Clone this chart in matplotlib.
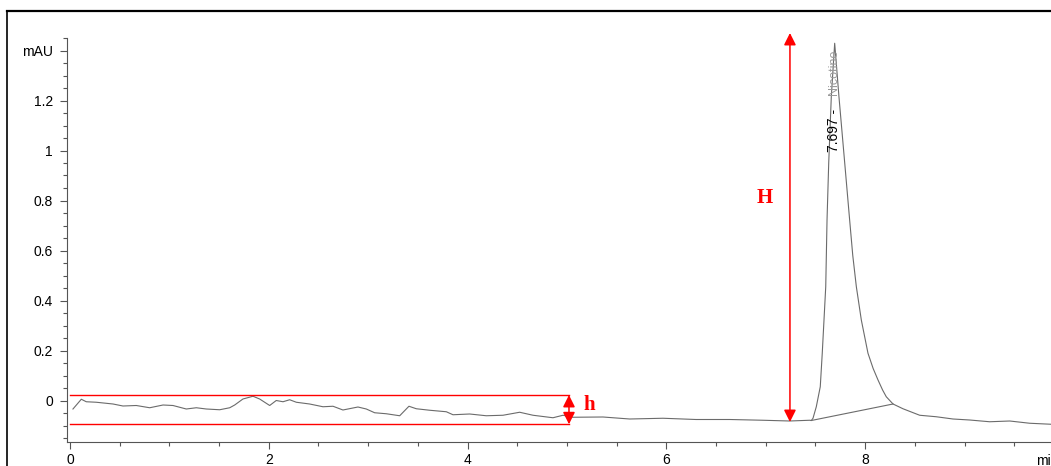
import matplotlib
matplotlib.use("Agg")
import matplotlib.pyplot as plt
from matplotlib.lines import Line2D
from matplotlib.ticker import MultipleLocator, FixedLocator

# chromatogram trace (min, mAU)
time_min = [0.03, 0.114, 0.164, 0.265, 0.433, 0.533, 0.667, 0.802, 0.936, 1.036,
            1.170, 1.271, 1.371, 1.506, 1.607, 1.657, 1.740, 1.841, 1.908, 2.009,
            2.075, 2.143, 2.210, 2.277, 2.411, 2.545, 2.646, 2.746, 2.897, 2.981,
            3.065, 3.182, 3.317, 3.410, 3.484, 3.619, 3.786, 3.853, 4.021, 4.188,
            4.356, 4.524, 4.658, 4.859, 4.960, 5.060, 5.362, 5.631, 5.966, 6.298,
            6.637, 6.972, 7.240, 7.442, 7.458, 7.475, 7.508, 7.548, 7.568, 7.603,
            7.616, 7.633, 7.659, 7.693, 7.736, 7.794, 7.844, 7.875, 7.911, 7.961,
            8.028, 8.080, 8.129, 8.175, 8.212, 8.280, 8.380, 8.548, 8.715, 8.883,
            9.051, 9.252, 9.454, 9.655, 9.869]
signal = [-0.034, 0.005, -0.005, -0.007, -0.014, -0.022, -0.020, -0.029, -0.018, -0.020,
          -0.034, -0.029, -0.034, -0.037, -0.029, -0.018, 0.006, 0.017, 0.006, -0.020,
          0.000, -0.005, 0.003, -0.007, -0.014, -0.025, -0.023, -0.038, -0.026, -0.034,
          -0.049, -0.053, -0.061, -0.023, -0.033, -0.039, -0.045, -0.057, -0.054, -0.061,
          -0.059, -0.047, -0.059, -0.069, -0.059, -0.067, -0.066, -0.074, -0.071, -0.076,
          -0.076, -0.079, -0.082, -0.079, -0.080, -0.071, -0.025, 0.055, 0.189, 0.455,
          0.722, 0.950, 1.215, 1.429, 1.215, 0.950, 0.720, 0.580, 0.455, 0.322,
          0.189, 0.128, 0.082, 0.042, 0.015, -0.014, -0.033, -0.059, -0.065, -0.074,
          -0.078, -0.085, -0.082, -0.091, -0.095]

# integration baseline under the peak
peak_base_t = [7.458, 8.280]
peak_base_v = [-0.080, -0.014]
peak_label = "7.697 - "
peak_name = "Nicotine"

# noise band (h) and peak height (H)
noise_hi = 0.022
noise_lo = -0.095
noise_end = 5.02
H_time = 7.243
H_top = 1.47
H_bottom = -0.086

ytick_vals = [0, 0.2, 0.4, 0.6, 0.8, 1.0, 1.2, 1.4]
ytick_text = ["0", "0.2", "0.4", "0.6", "0.8", "1", "1.2", "mAU"]
xtick_vals = [0, 2, 4, 6, 8]

RED = "#ff0000"
TRACE = "#6b6b6b"
AXIS = "#555555"

plt.rcParams["font.family"] = ["Liberation Sans", "DejaVu Sans"]

fig = plt.figure(figsize=(10.51, 4.66), dpi=100)
ax = fig.add_axes([67 / 1051, 24 / 466, 997 / 1051, 404 / 466])

ax.plot(time_min, signal, color=TRACE, lw=0.8)
ax.plot(peak_base_t, peak_base_v, color=TRACE, lw=0.8)

ax.set_xlim(-0.03, 10.0)
ax.set_ylim(-0.166, 1.45)

for s in ["top", "right"]:
    ax.spines[s].set_visible(False)
for s in ["left", "bottom"]:
    ax.spines[s].set_color(AXIS)
    ax.spines[s].set_linewidth(0.8)

ax.yaxis.set_major_locator(FixedLocator(ytick_vals))
ax.set_yticklabels(ytick_text)
ax.yaxis.set_minor_locator(MultipleLocator(0.05))
ax.xaxis.set_major_locator(FixedLocator(xtick_vals))
ax.xaxis.set_minor_locator(MultipleLocator(0.5))
ax.tick_params(which="major", direction="out", length=5, width=0.8,
               color=AXIS, labelsize=10, labelcolor="black")
ax.tick_params(axis="y", which="major", pad=5)
ax.tick_params(axis="x", which="major", pad=3)
ax.tick_params(which="minor", direction="out", length=3, width=0.8, color=AXIS)

# axis unit at the far end, cut by the page edge as in the scan
ax.text(9.72, -0.242, "min", fontsize=10, ha="left", va="center", clip_on=False)

# peak label, rotated
ax.text(7.686, 0.995, peak_label, rotation=90, fontsize=10, ha="center",
        va="bottom", color="black")
ax.text(7.686, 1.222, peak_name, rotation=90, fontsize=9, ha="center",
        va="bottom", color="#9a9a9a")

# noise band
ax.plot([0, noise_end], [noise_hi, noise_hi], color=RED, lw=1.0)
ax.plot([0, noise_end], [noise_lo, noise_lo], color=RED, lw=1.0)
arrow = dict(arrowstyle="<|-|>,head_length=0.4,head_width=0.2", color=RED,
             lw=1.1, mutation_scale=18, shrinkA=0, shrinkB=0)
ax.annotate("", xy=(noise_end, noise_hi), xytext=(noise_end, noise_lo),
            arrowprops=arrow)
ax.text(5.228, -0.02, "h", color=RED, fontsize=15, fontweight="bold",
        family=["Liberation Serif", "DejaVu Serif"], ha="center", va="center")

# peak height
ax.annotate("", xy=(H_time, H_top), xytext=(H_time, H_bottom),
            arrowprops=arrow, annotation_clip=False)
ax.text(6.99, 0.81, "H", color=RED, fontsize=15, fontweight="bold",
        family=["Liberation Serif", "DejaVu Serif"], ha="center", va="center")

# scanned page frame
fig.add_artist(Line2D([7 / 1051, 7 / 1051], [0, 1 - 11 / 466], color="black", lw=1.2))
fig.add_artist(Line2D([7 / 1051, 1], [1 - 11 / 466, 1 - 11 / 466], color="black", lw=1.6))

fig.savefig("out.png", dpi=100)
